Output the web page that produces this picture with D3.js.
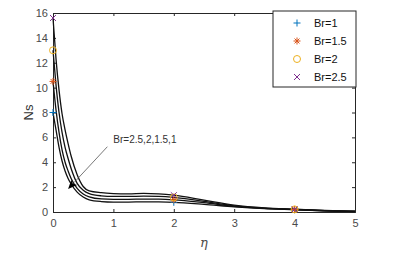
<!DOCTYPE html>
<html>
<head>
<meta charset="utf-8">
<script src="https://cdn.jsdelivr.net/npm/d3@7"></script>
<style>
  body { margin: 0; background: #fff; }
  svg { display: block; font-family: "Liberation Sans", Arial, sans-serif; }
  .tick text { fill: #4a4a4a; font-size: 11px; }
</style>
</head>
<body>
<div id="chart"></div>
<script>
// eta samples shared by all curves
const eta = [0, 0.05, 0.1, 0.15, 0.2, 0.25, 0.3, 0.4, 0.5, 0.6, 0.8, 1, 1.25, 1.5, 1.75, 2, 2.5, 3, 3.5, 4, 4.5, 5];

// Ns values
const nsBr1   = [8.0, 6.6, 5.2, 4.1, 3.3, 2.7, 2.25, 1.6, 1.2, 0.98, 0.84, 0.8, 0.8, 0.82, 0.81, 0.78, 0.62, 0.42, 0.27, 0.18, 0.09, 0.04];
const nsBr15  = [10.5, 8.2, 6.4, 5.0, 4.0, 3.3, 2.7, 1.9, 1.45, 1.22, 1.05, 1.02, 1.02, 1.04, 1.03, 0.98, 0.75, 0.46, 0.29, 0.2, 0.1, 0.05];
const nsBr2   = [13.0, 10.2, 8.0, 6.4, 5.2, 4.3, 3.5, 2.3, 1.75, 1.48, 1.3, 1.25, 1.25, 1.27, 1.25, 1.17, 0.85, 0.5, 0.31, 0.21, 0.11, 0.05];
const nsBr25  = [15.6, 12.3, 9.8, 7.9, 6.6, 5.5, 4.5, 3.0, 2.05, 1.7, 1.55, 1.48, 1.45, 1.5, 1.46, 1.35, 0.95, 0.55, 0.33, 0.22, 0.12, 0.06];

const brLabels = ['Br=1', 'Br=1.5', 'Br=2', 'Br=2.5'];
const brSeries = [nsBr1, nsBr15, nsBr2, nsBr25];
const markerEta = [0, 2, 4];

const xTicks = [0, 1, 2, 3, 4, 5];
const yTicks = [0, 2, 4, 6, 8, 10, 12, 14, 16];

// annotation (data coords)
const noteText = 'Br=2.5,2,1.5,1';
const noteFrom = [0.9, 5.25];
const noteTo = [0.25, 1.85];

const W = 413, H = 256;
const margin = { left: 53, right: 58, top: 13, bottom: 44 };

const svg = d3.select('#chart').append('svg')
  .attr('width', W).attr('height', H);

const x = d3.scaleLinear().domain([0, 5]).range([margin.left, W - margin.right]);
const y = d3.scaleLinear().domain([0, 16]).range([H - margin.bottom, margin.top]);

const axisColor = '#262626';

// axes (box style, ticks inward)
const gx = svg.append('g').attr('transform', `translate(0,${y(0)})`)
  .call(d3.axisBottom(x).tickValues(xTicks).tickSize(-3).tickPadding(7).tickFormat(d3.format('d')));
const gxt = svg.append('g').attr('transform', `translate(0,${y(16)})`)
  .call(d3.axisTop(x).tickValues(xTicks).tickSize(-3).tickFormat(''));
const gy = svg.append('g').attr('transform', `translate(${x(0)},0)`)
  .call(d3.axisLeft(y).tickValues(yTicks).tickSize(-3).tickPadding(5).tickFormat(d3.format('d')));
const gyr = svg.append('g').attr('transform', `translate(${x(5)},0)`)
  .call(d3.axisRight(y).tickValues(yTicks).tickSize(-3).tickFormat(''));
[gx, gxt, gy, gyr].forEach(g => {
  g.select('.domain').attr('stroke', axisColor).attr('stroke-width', 1);
  g.selectAll('.tick line').attr('stroke', axisColor);
});

// curves
const line = d3.line()
  .x((d, i) => x(eta[i]))
  .y(d => y(d))
  .curve(d3.curveMonotoneX);

svg.append('g').selectAll('path')
  .data(brSeries)
  .enter().append('path')
  .attr('d', d => line(d))
  .attr('fill', 'none')
  .attr('stroke', '#111')
  .attr('stroke-width', 1.3);

// markers
const colors = ['#0072BD', '#D95319', '#EDB120', '#7E2F8E'];
function drawMarker(g, k, cx, cy) {
  const s = 3.5, c = colors[k];
  if (k === 0) {
    g.append('path').attr('d', `M${cx - s},${cy}H${cx + s}M${cx},${cy - s}V${cy + s}`)
      .attr('stroke', c).attr('stroke-width', 1);
  } else if (k === 1) {
    const d = s * 0.7;
    g.append('path').attr('d', `M${cx - s},${cy}H${cx + s}M${cx},${cy - s}V${cy + s}M${cx - d},${cy - d}L${cx + d},${cy + d}M${cx - d},${cy + d}L${cx + d},${cy - d}`)
      .attr('stroke', c).attr('stroke-width', 1);
  } else if (k === 2) {
    g.append('circle').attr('cx', cx).attr('cy', cy).attr('r', s)
      .attr('fill', 'none').attr('stroke', c).attr('stroke-width', 1);
  } else {
    const d = s * 0.85;
    g.append('path').attr('d', `M${cx - d},${cy - d}L${cx + d},${cy + d}M${cx - d},${cy + d}L${cx + d},${cy - d}`)
      .attr('stroke', c).attr('stroke-width', 1);
  }
}

const mg = svg.append('g');
brSeries.forEach((ser, k) => {
  markerEta.forEach(e => {
    const i = eta.indexOf(e);
    drawMarker(mg, k, x(e), y(ser[i]));
  });
});

// annotation arrow
const [fx, fy] = [x(noteFrom[0]), y(noteFrom[1])];
const [tx, ty] = [x(noteTo[0]), y(noteTo[1])];
const ang = Math.atan2(ty - fy, tx - fx);
const hl = 9, hw = 4;
const bx = tx - hl * Math.cos(ang), by = ty - hl * Math.sin(ang);
svg.append('line')
  .attr('x1', fx).attr('y1', fy).attr('x2', bx).attr('y2', by)
  .attr('stroke', '#555').attr('stroke-width', 0.8);
svg.append('path')
  .attr('d', `M${tx},${ty}L${bx + hw * Math.sin(ang)},${by - hw * Math.cos(ang)}L${bx + 2 * Math.cos(ang)},${by + 2 * Math.sin(ang)}L${bx - hw * Math.sin(ang)},${by + hw * Math.cos(ang)}Z`)
  .attr('fill', '#000');
svg.append('text')
  .attr('x', fx + 6).attr('y', fy - 4)
  .attr('font-size', 10).attr('fill', '#333')
  .text(noteText);

// axis labels
svg.append('text')
  .attr('x', (x(0) + x(5)) / 2).attr('y', 247)
  .attr('text-anchor', 'middle')
  .attr('font-size', 13).attr('font-style', 'italic')
  .attr('font-family', '"DejaVu Serif", serif')
  .attr('fill', '#4a4a4a')
  .text('η');
svg.append('text')
  .attr('transform', `translate(33,${(y(0) + y(16)) / 2}) rotate(-90)`)
  .attr('text-anchor', 'middle')
  .attr('font-size', 13)
  .attr('fill', '#333')
  .text('Ns');

// legend
const lg = svg.append('g');
lg.append('rect')
  .attr('x', 273).attr('y', 11).attr('width', 83).attr('height', 76)
  .attr('fill', '#fff').attr('stroke', axisColor).attr('stroke-width', 1);
brLabels.forEach((lab, k) => {
  const ly = 23 + k * 18;
  drawMarker(lg, k, 297, ly);
  lg.append('text')
    .attr('x', 314).attr('y', ly + 4)
    .attr('font-size', 11).attr('fill', '#111')
    .text(lab);
});
</script>
</body>
</html>
